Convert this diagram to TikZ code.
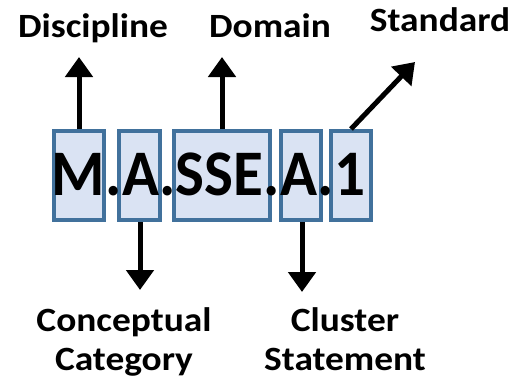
\documentclass[tikz,border=0pt]{standalone}
\usepackage{fontspec}
\setmainfont{Carlito}
\newfontfamily\labfont[FakeStretch=1.1]{Carlito}
\newfontfamily\codefont[FakeStretch=0.94]{Carlito}
\usetikzlibrary{arrows.meta}
\definecolor{boxborder}{HTML}{41719C}
\definecolor{boxfill}{HTML}{DAE3F3}
\begin{document}
\begin{tikzpicture}[x=1pt,y=-1pt,
  codebox/.style={draw=boxborder,fill=boxfill,line width=4pt,minimum height=89pt,inner sep=0pt},
  lab/.style={font=\labfont\bfseries\fontsize{34}{39}\selectfont,align=center,anchor=base,inner sep=0pt},
  arr/.style={line width=5pt,-{Triangle[width=27pt,length=20pt]}}]
\useasboundingbox (0,0) rectangle (516,380);
\node[codebox,minimum width=50pt] (b1) at (79,175.5) {};
\node[codebox,minimum width=41pt] (b2) at (139.5,175.5) {};
\node[codebox,minimum width=96pt] (b3) at (222,175.5) {};
\node[codebox,minimum width=40pt] (b4) at (301,175.5) {};
\node[codebox,minimum width=40pt] (b5) at (351,175.5) {};
\node[anchor=base,inner sep=0pt,font=\codefont\bfseries\fontsize{65}{70}\selectfont] (code) at (208.5,195) {M.A.SSE.A.1};
\coordinate (t1) at (79,57);
\coordinate (t3) at (222,57);
\coordinate (t5) at (415,62);
\coordinate (t2) at (140,290);
\coordinate (t4) at (302,292);
\draw[arr] (b1.north) -- (t1);
\draw[arr] (b3.north) -- (t3);
\draw[arr] (b5.north) -- (t5);
\draw[arr] (b2.south -| t2) -- (t2);
\draw[arr] (b4.south -| t4) -- (t4);
\node[lab] (discipline) at (93,37) {Discipline};
\node[lab] (domain) at (270,37) {Domain};
\node[lab] (standard) at (440,31) {Standard};
\node[lab] (concept) at (124,370) {Conceptual\\Category};
\node[lab] (cluster) at (345,370) {Cluster\\Statement};
\end{tikzpicture}
\end{document}
